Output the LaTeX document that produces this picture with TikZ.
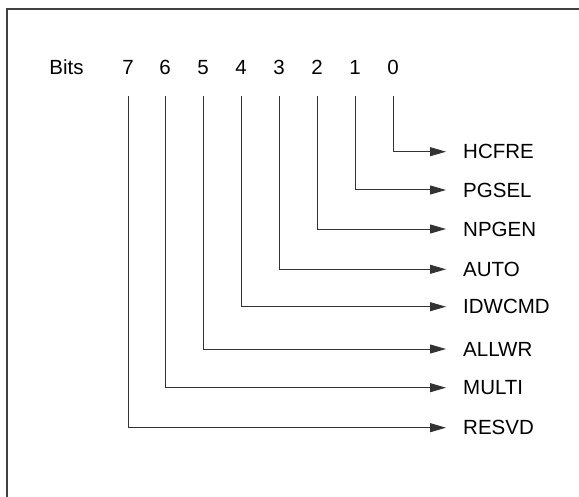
\documentclass[tikz,border=0pt]{standalone}
\usepackage{fontspec}
\setmainfont{Liberation Sans}
\usetikzlibrary{arrows.meta}
\begin{document}
\begin{tikzpicture}[x=1bp,y=-1bp,
  txt/.style={inner sep=0pt,font=\fontsize{20.5bp}{24bp}\selectfont},
  bitlbl/.style={txt,anchor=base},
  fieldlbl/.style={txt,anchor=west},
  conn/.style={line width=1bp,draw=black!80,-{Triangle[length=16bp,width=9bp]},shorten >=17bp},
  frame/.style={line width=2bp,draw=black!75}]
\useasboundingbox (0,0) rectangle (579,497);
\draw[frame] (7,498) -- (7,9) -- (580,9);
\node[bitlbl] (bits) at (66.5,75) {Bits};
\foreach \b/\x/\y/\n in {7/128/427.7/RESVD,6/165/387.7/MULTI,5/203/349/ALLWR,4/241/306.7/IDWCMD,3/279/269.3/AUTO,2/317/229/NPGEN,1/355/190/PGSEL,0/393/151.7/HCFRE}{
  \node[bitlbl] (b\b) at (\x,75) {\b};
  \coordinate (s\b) at (\x,96);
  \node[fieldlbl] (f\b) at (463,\y) {\n};
  \draw[conn] (s\b) |- (f\b.west);
}
\end{tikzpicture}
\end{document}
